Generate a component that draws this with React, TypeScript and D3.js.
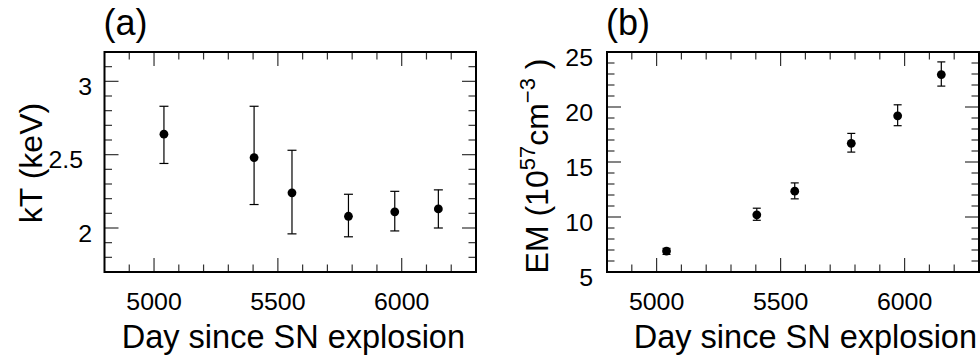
import React, { useEffect, useRef } from 'react';
import * as d3 from 'd3';

// observation epochs (days since explosion)
const days = [5040, 5404, 5557, 5785, 5972, 6148];

// (a) temperature
const kT = [2.64, 2.48, 2.24, 2.08, 2.11, 2.13];
const kTUp = [2.83, 2.83, 2.53, 2.23, 2.25, 2.26];
const kTLow = [2.44, 2.16, 1.96, 1.94, 1.98, 2.0];

// (b) emission measure, 1e57 cm^-3
const em = [6.9, 10.2, 12.35, 16.7, 19.2, 22.95];
const emUp = [7.15, 10.8, 13.1, 17.6, 20.2, 24.1];
const emLow = [6.6, 9.7, 11.65, 15.9, 18.3, 21.9];

const xMajor = [5000, 5500, 6000];
const xTickLabels = ['5000', '5500', '6000'];
const kTMajor = [2, 2.5, 3];
const kTTickLabels = ['2', '2.5', '3'];
const emMajor = [5, 10, 15, 20, 25];
const emTickLabels = ['5', '10', '15', '20', '25'];

const W = 980;
const H = 358;
const FONT = "'Liberation Sans', Arial, Helvetica, sans-serif";

type Panel = {
  left: number;
  right: number;
  label: string;
  yDomain: [number, number];
  yMajor: number[];
  yLabels: string[];
  yMinorStep: number;
  values: number[];
  up: number[];
  low: number[];
  labelRight: number;
  titleEnd: number;
};

const App = () => {
  const svgRef = useRef<SVGSVGElement>(null);

  useEffect(() => {
    const svg = d3.select(svgRef.current);
    svg.selectAll('*').remove();

    const top = 52;
    const bottom = 272;

    const panels: Panel[] = [
      {
        left: 104.5, right: 476, label: '(a)', yDomain: [1.7, 3.2],
        yMajor: kTMajor, yLabels: kTTickLabels, yMinorStep: 0.1,
        values: kT, up: kTUp, low: kTLow, labelRight: 92, titleEnd: 465,
      },
      {
        left: 607, right: 979, label: '(b)', yDomain: [5, 25],
        yMajor: emMajor, yLabels: emTickLabels, yMinorStep: 1,
        values: em, up: emUp, low: emLow, labelRight: 593, titleEnd: 977,
      },
    ];

    // tick labels in the original look a bit wider than tall
    const tickText = (gg: any, px: number, py: number, anchor: string, s: string) => {
      gg.append('text')
        .attr('transform', `translate(${px},${py}) scale(1.06,1)`)
        .attr('text-anchor', anchor)
        .style('font-family', FONT).style('font-size', '23.5px')
        .text(s);
    };

    panels.forEach((p, pi) => {
      const x = d3.scaleLinear().domain([4800, 6300]).range([p.left, p.right]);
      const y = d3.scaleLinear().domain(p.yDomain).range([bottom, top]);
      const g = svg.append('g');

      const xMinor = d3.range(4800, 6301, 100).filter(v => !xMajor.includes(v));
      const n = Math.round((p.yDomain[1] - p.yDomain[0]) / p.yMinorStep);
      const yMinor = d3.range(0, n + 1)
        .map(i => +(p.yDomain[0] + i * p.yMinorStep).toFixed(3))
        .filter(v => !p.yMajor.some(m => Math.abs(m - v) < 1e-6));

      const tickStroke = '#333';
      // x ticks, bottom and top, pointing in
      const xt = (vals: number[], len: number) => {
        vals.forEach(v => {
          const px = x(v);
          if (px <= p.left + 1 || px >= p.right - 1) return;
          g.append('line').attr('x1', px).attr('x2', px).attr('y1', bottom).attr('y2', bottom - len)
            .attr('stroke', tickStroke).attr('stroke-width', 1.2);
          g.append('line').attr('x1', px).attr('x2', px).attr('y1', top).attr('y2', top + len)
            .attr('stroke', tickStroke).attr('stroke-width', 1.2);
        });
      };
      xt(xMajor, 14);
      xt(xMinor, 7.5);

      const yt = (vals: number[], len: number) => {
        vals.forEach(v => {
          const py = y(v);
          if (py <= top + 1 || py >= bottom - 1) return;
          g.append('line').attr('x1', p.left).attr('x2', p.left + len).attr('y1', py).attr('y2', py)
            .attr('stroke', tickStroke).attr('stroke-width', 1.2);
          g.append('line').attr('x1', p.right).attr('x2', p.right - len).attr('y1', py).attr('y2', py)
            .attr('stroke', tickStroke).attr('stroke-width', 1.2);
        });
      };
      yt(p.yMajor, 14);
      yt(yMinor, 7.5);

      // frame
      g.append('rect')
        .attr('x', p.left).attr('y', top)
        .attr('width', p.right - p.left).attr('height', bottom - top)
        .attr('fill', 'none').attr('stroke', '#000').attr('stroke-width', 2);

      // x tick labels
      xMajor.forEach((v, i) => tickText(g, x(v), 310, 'middle', xTickLabels[i]));

      // y tick labels
      p.yMajor.forEach((v, i) => {
        const s = p.yLabels[i];
        tickText(g, p.labelRight - (s.includes('.') ? 9 : 0), y(v) + 13.5, 'end', s);
      });

      // x title
      g.append('text')
        .attr('x', p.titleEnd).attr('y', 348)
        .attr('text-anchor', 'end')
        .style('font-family', FONT).style('font-size', '32.5px')
        .text('Day since SN explosion');

      // panel label
      g.append('text')
        .attr('x', p.left - 1).attr('y', 35)
        .style('font-family', FONT).style('font-size', '36px')
        .text(p.label);

      // y title
      if (pi === 0) {
        g.append('text')
          .attr('transform', 'translate(42,163) rotate(-90)')
          .attr('text-anchor', 'middle')
          .style('font-family', FONT).style('font-size', '32px')
          .text('kT (keV)');
      } else {
        const t = g.append('text')
          .attr('transform', 'translate(548,166) rotate(-90)')
          .attr('text-anchor', 'middle')
          .style('font-family', FONT).style('font-size', '32px');
        t.append('tspan').text('EM (10');
        t.append('tspan').attr('dy', -13).style('font-size', '22px').text('57');
        t.append('tspan').attr('dy', 13).text('cm');
        t.append('tspan').attr('dy', -13).style('font-size', '22px').text('\u22123');
        t.append('tspan').attr('dy', 13).text(' )');
      }

      // error bars + markers
      const capW = pi === 0 ? 4.5 : 4;
      days.forEach((d, i) => {
        const px = x(d);
        g.append('line').attr('x1', px).attr('x2', px)
          .attr('y1', y(p.up[i])).attr('y2', y(p.low[i]))
          .attr('stroke', '#000').attr('stroke-width', 1.2);
        [p.up[i], p.low[i]].forEach(v => {
          g.append('line').attr('x1', px - capW).attr('x2', px + capW)
            .attr('y1', y(v)).attr('y2', y(v))
            .attr('stroke', '#000').attr('stroke-width', 1.2);
        });
        g.append('circle').attr('cx', px).attr('cy', y(p.values[i])).attr('r', 4.4).attr('fill', '#000');
      });
    });
  }, []);

  return (
    <svg
      ref={svgRef}
      width={W}
      height={H}
      style={{ position: 'absolute', left: 0, top: 0, background: '#fff' }}
    />
  );
};

export default App;
